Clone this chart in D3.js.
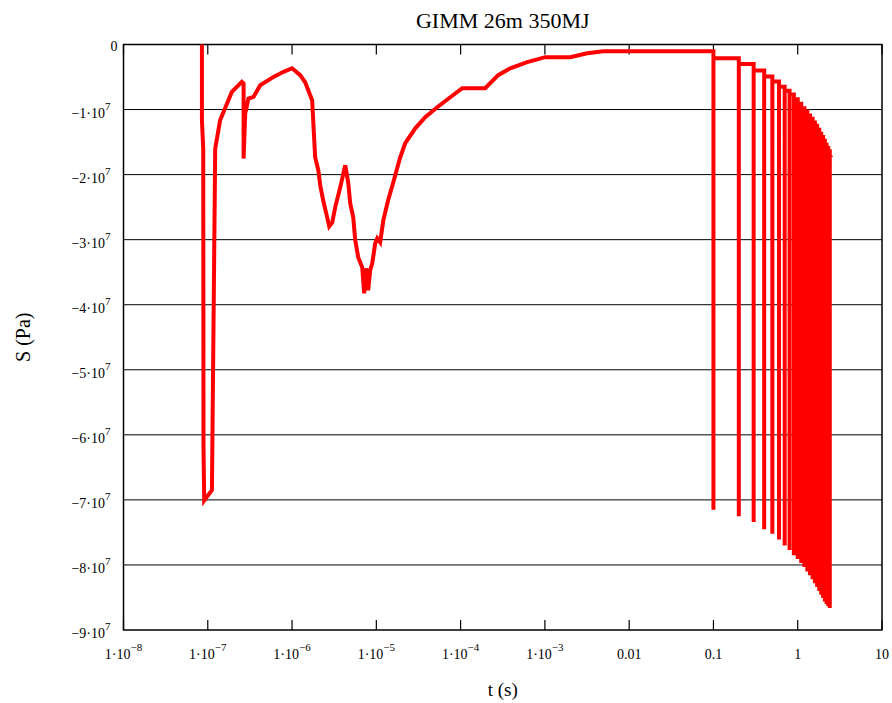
<!DOCTYPE html>
<html lang="en">
<head>
    <meta charset="UTF-8">
    <title>GIMM 26m 350MJ</title>
    <style>
        body {
            margin: 0;
            background: #fff;
        }

        text {
            font-family: "Liberation Serif", "Times New Roman", serif;
            fill: #000;
        }

        .grid line {
            stroke: #000;
            stroke-width: 1px;
        }

        .frame {
            fill: none;
            stroke: #000;
            stroke-width: 1.5px;
        }

        .tick-mark {
            stroke: #000;
            stroke-width: 1.2px;
        }

        .curve {
            fill: none;
            stroke: #ff0000;
            stroke-width: 4px;
        }
    </style>
</head>
<body>
<svg width="892" height="703"></svg>
<script src="https://d3js.org/d3.v7.min.js"></script>
<script>
    // early response, t in s, S in Pa
    let earlyT = [8.52e-8, 8.52e-8, 8.83e-8, 8.9e-8, 9.07e-8, 1.12e-7, 1.225e-7, 1.40e-7, 1.93e-7, 2.54e-7,
        2.66e-7, 2.66e-7, 2.78e-7, 3.04e-7, 3.49e-7, 4.19e-7, 6.03e-7, 7.92e-7, 1.0e-6, 1.25e-6,
        1.43e-6, 1.73e-6, 1.88e-6, 2.05e-6, 2.16e-6, 2.34e-6, 2.61e-6, 2.76e-6, 3.0e-6, 3.25e-6,
        3.73e-6, 4.28e-6, 4.65e-6, 4.9e-6, 5.32e-6, 5.62e-6, 6.1e-6, 6.8e-6, 7.18e-6, 7.59e-6,
        8.0e-6, 8.47e-6, 8.94e-6, 9.7e-6, 1.026e-5, 1.11e-5, 1.21e-5, 1.38e-5, 1.59e-5, 1.92e-5,
        2.2e-5, 2.9e-5, 3.8e-5, 5.28e-5, 7.54e-5, 1.045e-4, 1.96e-4, 2.79e-4, 3.88e-4, 6.17e-4,
        1.01e-3, 2.0e-3, 3.18e-3, 4.93e-3, 0.1];
    let earlyS = [0, -1.165e7, -1.597e7, -6.22e7, -7.01e7, -6.85e7, -1.6e7, -1.165e7, -0.729e7, -0.575e7,
        -0.6e7, -1.754e7, -1.06e7, -0.83e7, -0.806e7, -0.626e7, -0.498e7, -0.42e7, -0.365e7, -0.472e7,
        -0.58e7, -0.857e7, -1.734e7, -1.934e7, -2.165e7, -2.395e7, -2.657e7, -2.795e7, -2.734e7, -2.503e7,
        -2.195e7, -1.857e7, -2.134e7, -2.442e7, -2.657e7, -3.01e7, -3.272e7, -3.426e7, -3.826e7, -3.44e7,
        -3.78e7, -3.47e7, -3.365e7, -3.057e7, -2.98e7, -3.042e7, -2.703e7, -2.395e7, -2.118e7, -1.734e7,
        -1.518e7, -1.288e7, -1.118e7, -0.965e7, -0.811e7, -0.672e7, -0.672e7, -0.472e7, -0.365e7, -0.272e7,
        -0.195e7, -0.195e7, -0.134e7, -0.103e7, -0.103e7];

    // repeated pulses: time, peak value, value it settles back to
    let pulseT = [0.1, 0.2, 0.3, 0.4, 0.5, 0.6, 0.7, 0.8, 0.9, 1.0, 1.1, 1.2,
        1.3, 1.4, 1.5, 1.6, 1.7, 1.8, 1.9, 2.0, 2.1, 2.2, 2.3, 2.4];
    let pulseMin = [-7.15e7, -7.25e7, -7.34e7, -7.45e7, -7.52e7, -7.61e7, -7.70e7, -7.77e7, -7.85e7, -7.91e7, -7.97e7, -8.03e7,
        -8.10e7, -8.16e7, -8.22e7, -8.28e7, -8.34e7, -8.40e7, -8.46e7, -8.51e7, -8.56e7, -8.60e7, -8.63e7, -8.66e7];
    let pulseRest = [-0.21e7, -0.30e7, -0.40e7, -0.49e7, -0.57e7, -0.65e7, -0.71e7, -0.77e7, -0.84e7, -0.91e7, -0.98e7, -1.03e7,
        -1.09e7, -1.14e7, -1.20e7, -1.25e7, -1.31e7, -1.37e7, -1.42e7, -1.48e7, -1.54e7, -1.59e7, -1.64e7, -1.70e7];
    let endT = 2.5, endS = -1.74e7;

    let xTicks = [1e-8, 1e-7, 1e-6, 1e-5, 1e-4, 1e-3, 0.01, 0.1, 1, 10];
    let xTickLabels = [["1·10", "−8"], ["1·10", "−7"], ["1·10", "−6"], ["1·10", "−5"], ["1·10", "−4"],
        ["1·10", "−3"], ["0.01", ""], ["0.1", ""], ["1", ""], ["10", ""]];
    let yTicks = [0, -1e7, -2e7, -3e7, -4e7, -5e7, -6e7, -7e7, -8e7, -9e7];
    let yTickLabels = [["0", ""], ["−1·10", "7"], ["−2·10", "7"], ["−3·10", "7"], ["−4·10", "7"],
        ["−5·10", "7"], ["−6·10", "7"], ["−7·10", "7"], ["−8·10", "7"], ["−9·10", "7"]];

    let svg = d3.select("svg"),
        margin = {top: 44.5, right: 10, bottom: 73, left: 123.5},
        width = +svg.attr("width") - margin.left - margin.right,
        height = +svg.attr("height") - margin.top - margin.bottom,
        g = svg.append("g").attr("transform", "translate(" + margin.left + "," + margin.top + ")");

    let x = d3.scaleLog().domain([1e-8, 10]).range([0, width]);
    let y = d3.scaleLinear().domain([-9e7, 0]).range([height, 0]);

    // horizontal grid
    g.append("g").attr("class", "grid")
        .selectAll("line")
        .data(yTicks.slice(1, -1))
        .enter().append("line")
        .attr("x1", 0).attr("x2", width)
        .attr("y1", d => y(d)).attr("y2", d => y(d));

    // frame
    g.append("rect").attr("class", "frame")
        .attr("x", 0).attr("y", 0).attr("width", width).attr("height", height);

    // tick marks on top and bottom, pointing in
    g.selectAll(".tick-top")
        .data(xTicks)
        .enter().append("line")
        .attr("class", "tick-mark")
        .attr("x1", d => x(d)).attr("x2", d => x(d))
        .attr("y1", 0).attr("y2", 10);
    g.selectAll(".tick-bottom")
        .data(xTicks)
        .enter().append("line")
        .attr("class", "tick-mark")
        .attr("x1", d => x(d)).attr("x2", d => x(d))
        .attr("y1", height).attr("y2", height - 10);

    // x tick labels
    let xl = g.selectAll(".xlabel")
        .data(xTicks)
        .enter().append("text")
        .attr("class", "xlabel")
        .attr("x", d => x(d))
        .attr("y", height + 29)
        .attr("text-anchor", "middle")
        .style("font-size", "14px");
    xl.append("tspan").text((d, i) => xTickLabels[i][0]);
    xl.append("tspan")
        .attr("dy", -8)
        .style("font-size", "11px")
        .text((d, i) => xTickLabels[i][1]);

    // y tick labels
    let yl = g.selectAll(".ylabel")
        .data(yTicks)
        .enter().append("text")
        .attr("class", "ylabel")
        .attr("x", (d, i) => yTickLabels[i][1] ? -13 : -6)
        .attr("y", d => y(d) + (d === 0 ? 6.5 : 8))
        .attr("text-anchor", "end")
        .style("font-size", "14px");
    yl.append("tspan").text((d, i) => yTickLabels[i][0]);
    yl.append("tspan")
        .attr("dy", -8)
        .style("font-size", "11px")
        .text((d, i) => yTickLabels[i][1]);

    // build the curve
    let points = earlyT.map((t, i) => [t, earlyS[i]]);
    pulseT.forEach(function (t, i) {
        if (i > 0) points.push([t, pulseRest[i - 1]]);
        points.push([t, pulseMin[i]]);
        points.push([t, pulseRest[i]]);
    });
    points.push([endT, endS]);

    let line = d3.line()
        .x(d => x(d[0]))
        .y(d => y(d[1]));

    g.append("path")
        .datum(points)
        .attr("class", "curve")
        .attr("d", line);

    // titles
    svg.append("text")
        .attr("x", margin.left + width / 2)
        .attr("y", 28)
        .attr("text-anchor", "middle")
        .style("font-size", "22px")
        .text("GIMM 26m 350MJ");

    svg.append("text")
        .attr("x", margin.left + width / 2)
        .attr("y", 696)
        .attr("text-anchor", "middle")
        .style("font-size", "19px")
        .text("t (s)");

    svg.append("text")
        .attr("transform", "translate(30," + (margin.top + height / 2) + ") rotate(-90)")
        .attr("text-anchor", "middle")
        .style("font-size", "20px")
        .text("S (Pa)");
</script>
</body>
</html>
